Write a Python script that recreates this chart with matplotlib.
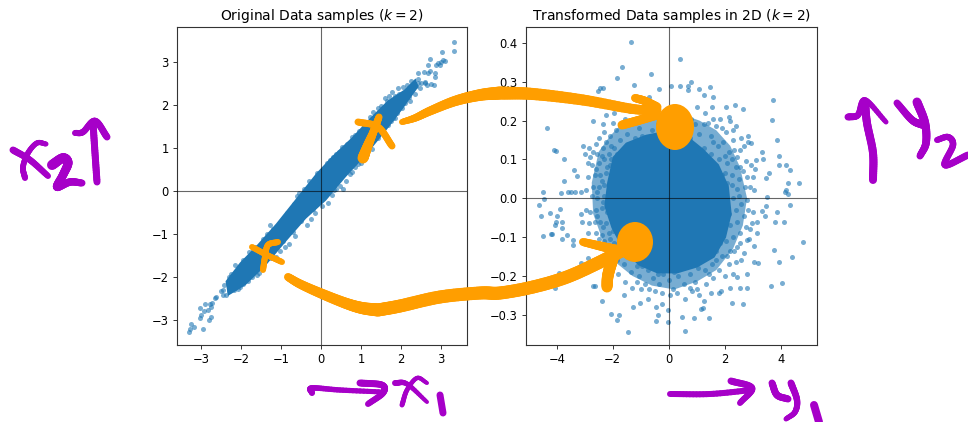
import matplotlib
matplotlib.use('Agg')
import matplotlib.pyplot as plt
import numpy as np
from matplotlib.collections import LineCollection
from matplotlib.patches import Ellipse

#Scatter samples (x, y)
orig_points = [
    (3.32,3.46),(3.32,3.25),(3.03,3.23),(2.72,3.05),(2.68,2.91),(3.05,3.04),(3.01,2.98),(2.93,2.96),(2.88,2.92),
    (2.98,2.93),(3.1,3.02),(2.43,2.73),(2.57,2.75),(2.68,2.73),(2.73,2.77),(2.86,2.73),(2.84,2.65),(2.76,2.48),
    (2.83,2.46),(2.43,2.5),(2.51,2.5),(2.59,2.5),(2.38,2.44),(2.3,2.49),(2.2,2.38),(2.15,2.45),(2.28,2.35),
    (2.12,2.3),(2.05,2.4),(1.95,2.25),(1.85,2.2),(1.7,2.2),(1.65,2.08),(1.5,1.98),(1.42,1.92),(2.2,2.18),
    (2.1,2.03),(2.02,1.93),(1.9,1.8),(1.75,1.62),(1.8,1.7),(0.85,1.3),(0.7,1.12),(0.6,0.98),(0.45,0.9),
    (0.3,0.78),(0.15,0.65),(0.12,0.55),(-0.1,0.42),(-0.3,0.22),(-0.42,0.05),(-0.55,-0.05),(0.55,0.05),(0.38,0.05),
    (0.72,0.4),(0.85,0.55),(1.0,0.65),(1.15,0.85),(0.28,-0.1),(0.02,-0.35),(-0.2,-0.42),(-0.25,-0.65),(-0.5,-0.7),
    (-0.65,-1.05),(-0.7,-0.95),(-0.9,-1.3),(-0.95,-1.15),(-1.25,-1.55),(-1.48,-1.45),(-1.28,-0.8),(-1.0,-0.72),
    (-0.85,-0.5),(-0.68,-0.3),(-1.45,-1.12),(-1.65,-1.3),(-1.8,-1.42),(-1.95,-1.6),(-2.02,-1.75),(-2.15,-1.72),
    (-2.3,-2.06),(-2.2,-2.14),(-2.08,-2.28),(-2.3,-2.0),(-1.6,-1.95),(-1.55,-1.9),(-1.95,-2.15),(-2.25,-1.92),
    (-2.37,-2.41),(-2.3,-2.31),(-2.49,-2.31),(-2.46,-2.29),(-2.62,-2.46),(-2.64,-2.49),(-2.42,-2.18),(-2.45,-2.42),
    (-2.74,-2.68),(-2.77,-2.61),(-2.83,-2.76),(-2.93,-2.78),(-2.74,-2.92),(-2.8,-2.98),(-3.03,-2.95),(-3.01,-2.88),
    (-2.89,-2.63),(-3.03,-2.71),(-2.95,-3.19),(-3.24,-3.09),(-3.18,-3.15),(-3.27,-3.2),(-3.3,-3.26),(-2.72,-2.6),
    (-2.18,-2.3),(-2.12,-2.0),(-2.02,-2.22),(-1.88,-1.72),(-1.78,-1.52),(-1.72,-2.0),(-1.7,-1.38),(-1.82,-2.08),
    (-1.35,-1.0),(-1.2,-.88),(-1.12,-1.52),(-1.02,-1.38),(-.8,-1.22),(-.75,-.45),(-.6,-.12),(-.35,-.78),(-.15,-.5),
    (.18,-.28),(.32,.02),(.48,.12),(.62,.22),(.78,.45),(.92,.62),(.22,.72),(.38,.85),(.52,1.02),(.65,1.08),(.78,1.25),
    (.95,1.38),(1.08,1.52),(1.22,1.72),(1.3,1.82),(1.12,.78),(1.28,.98),(1.42,1.22),(1.58,1.35),(1.68,1.52),(1.85,1.68),
    (1.6,2.15),(1.78,2.3),(1.92,2.38),(2.22,2.08),(2.35,2.25),(2.48,2.38),(2.42,2.6),(2.25,2.55),(2.6,2.52),(2.66,2.46),
]
orig_band_x = [-2.35,-2,-1.6,-1.1,-.6,-.1,.3,.8,1.2,1.7,2.1,2.35,2.4,2.0,1.6,1.1,.6,.1,-.4,-.9,-1.4,-1.9,-2.3]
orig_band_y = [-2.1,-1.68,-1.3,-.78,-.2,.38,.78,1.22,1.62,2.08,2.32,2.55,2.42,1.9,1.42,.85,.35,-.2,-.62,-1.15,-1.7,-2.15,-2.38]

trans_points = [
    (-1.33,.403),(.4,.358),(-1.67,.337),(-.63,.32),(-1.83,.309),(-1.25,.292),(-2.46,.283),(-2.35,.284),(-2.52,.275),
    (-.36,.281),(.07,.289),(.4,.29),(.69,.288),(.79,.299),(.7,.279),(1.08,.281),(1.49,.286),(1.25,.266),(1.58,.262),
    (3.74,.252),(3.7,.201),(3.88,.149),(3.94,.109),(3.94,.085),(4.2,.085),(4.32,.073),(4.26,.039),(4.64,.04),
    (4.14,.015),(4.2,.02),(4.27,.011),(4.32,-.017),(4.8,-.113),(4.42,-.152),(3.76,-.134),(3.94,-.165),(4.06,-.219),
    (3.64,-.226),(4.12,-.06),(3.8,-.062),(3.88,-.036),(3.45,-.047),(3.35,-.034),(3.49,-.021),(3.52,.004),(3.58,.064),
    (3.49,.052),(3.32,.12),(3.37,.1),(3.13,.099),(2.95,.143),(2.83,.161),(2.65,.23),(2.36,.241),(2.06,.236),
    (-4.35,.181),(-4.11,.124),(-4.01,.122),(-3.75,.102),(-3.39,.073),(-3.27,.056),(-3.73,.045),(-4.51,.017),
    (-3.85,.013),(-3.6,.015),(-3.48,.015),(-3.35,.015),(-3.12,.015),(-4.45,-.002),(-4.64,-.017),(-4.57,-.045),
    (-4.25,-.039),(-3.89,-.027),(-3.99,-.047),(-4.04,-.06),(-4.07,-.069),(-3.81,-.06),(-3.81,-.077),(-4.21,-.092),
    (-4.17,-.092),(-4.49,-.096),(-3.81,-.105),(-3.65,-.095),(-3.42,-.107),(-3.42,-.12),(-3.14,-.168),(-2.88,-.155),
    (-3.93,-.193),(-4.07,-.23),(-2.7,-.226),(-2.64,-.226),(-2.37,-.265),(-2.07,-.297),(-1.77,-.301),(-1.83,-.314),
    (-1.45,-.344),(-1.27,-.279),(-1.04,-.269),(-.74,-.26),(-.44,-.281),(-.4,-.301),(-.46,-.315),(-.24,-.273),
    (-.02,-.288),(-.01,-.32),(.46,-.305),(.58,-.341),(.9,-.309),(1.44,-.309),(1.17,-.286),(1.23,-.283),(2.65,-.273),
    (2.26,-.271),(2.56,-.23),(2.8,-.232),(2.18,-.23),(1.8,-.243),(1.88,-.238),(2.8,-.196),(2.3,-.196),(2.44,-.204),
    (3.2,-.168),(3.04,-.163),(3.04,-.123),(2.87,-.105),(2.8,-.107),(3.15,-.09),(2.89,-.079),(2.98,-.064),(3.15,-.062),
    # middle ring, top
    (-2.7,.2),(-2.25,.215),(-1.95,.22),(-1.6,.24),(-1.55,.205),(-1.3,.195),(-1.05,.18),(-.85,.24),(-.7,.26),(-.55,.24),
    (-2.5,.155),(-2.3,.17),(-2.1,.16),(-1.9,.175),(-1.75,.15),(-1.5,.165),(-1.2,.155),(-.95,.16),(-.6,.175),(-.3,.16),
    (1.0,.235),(1.3,.22),(1.55,.235),(1.85,.205),(2.2,.2),(2.4,.185),(2.6,.155),(2.85,.145),(2.05,.17),(1.7,.185),
    (1.25,.19),(1.5,.16),(1.95,.145),(2.3,.15),(2.55,.125),(2.7,.135),(1.1,.165),(1.75,.135),(2.15,.12),(2.45,.105),
    (2.75,.095),(2.95,.085),(3.1,.075),(2.65,.07),(2.4,.08),(2.1,.09),(1.8,.1),(1.5,.115),(1.25,.13),(3.0,.055),
    (2.8,.055),(2.5,.05),(2.25,.06),(2.0,.065),(2.72,.03),(2.45,.025),(2.25,.035),(2.08,.04),(2.9,.03),(3.05,.02),
    (-.2,.21),(-.05,.19),(.1,.175),(-.4,.19),(-.75,.205),(-1.0,.21),(-1.4,.225),(-1.75,.19),(-2.0,.195),(-2.35,.19),
    (.3,.16),(.55,.175),(.75,.155),(.95,.19),(.8,.205),(1.4,.195),(1.6,.205),(1.9,.18),(2.15,.21),(2.3,.175),
    (-1.15,.135),(-.85,.15),(-.5,.15),(-.15,.165),(.2,.155),(.6,.155),(.9,.13),(1.15,.11),(1.4,.09),(1.65,.075),
    (1.9,.06),(2.0,.11),(2.25,.1),(1.6,.145),(2.55,.08),(2.35,.125),(-1.6,.125),(-1.85,.115),(-2.05,.1),(-2.25,.145),
    # middle ring, left
    (-3.05,.135),(-3.0,.115),(-2.85,.13),(-2.7,.12),(-2.55,.115),(-2.35,.13),(-2.15,.115),(-1.95,.13),(-2.9,.09),
    (-2.75,.085),(-2.5,.09),(-2.3,.1),(-2.1,.085),(-2.9,.055),(-2.65,.06),(-2.45,.06),(-2.25,.065),(-2.05,.055),
    (-2.7,.03),(-2.5,.03),(-2.3,.035),(-2.15,.02),(-2.95,.02),(-2.75,.005),(-2.55,.0),(-2.3,.005),(-2.1,-.005),
    (-3.15,-.04),(-2.95,-.03),(-2.8,-.035),(-2.6,-.03),(-2.4,-.025),(-2.2,-.035),(-3.1,-.06),(-2.85,-.065),(-2.65,-.06),
    (-2.45,-.06),(-2.25,-.065),(-2.9,-.09),(-2.6,-.09),(-2.4,-.095),(-2.15,-.09),(-2.0,-.085),(-2.7,-.115),(-2.45,-.12),
    (-1.95,-.115),(-2.2,-.12),(-2.6,.075),(-2.4,.045),(-2.2,.08),(-1.98,.075),(-2.55,.015),(-2.35,-.01),(-2.05,-.05),
    (-2.55,-.045),(-2.35,-.075),(-2.5,-.105),(-2.3,-.11),(-2.1,-.105),(-2.6,.14),(-2.4,.11),(-2.8,.105),(-2.05,.135),
    # middle ring, bottom
    (-2.6,-.17),(-2.35,-.155),(-2.1,-.16),(-1.8,-.195),(-1.6,-.17),(-1.35,-.19),(-1.55,-.215),(-1.6,-.25),(-1.3,-.23),
    (-1.05,-.2),(-.85,-.22),(-.75,-.185),(-.55,-.205),(-.35,-.22),(-.2,-.195),(.0,-.21),(.15,-.235),(.35,-.2),(.55,-.22),
    (.6,-.26),(.75,-.195),(.95,-.215),(1.1,-.25),(1.25,-.265),(1.35,-.22),(1.5,-.245),(1.6,-.205),(1.05,-.18),(.85,-.24),
    (1.3,-.185),(1.55,-.17),(1.8,-.185),(2.0,-.2),(2.15,-.17),(2.4,-.165),(2.6,-.16),(2.7,-.14),(1.9,-.15),(2.2,-.135),
    (2.45,-.125),(1.7,-.135),(2.05,-.11),(2.3,-.1),(2.55,-.09),(2.75,-.075),(1.95,-.09),(2.2,-.07),(2.45,-.06),(2.68,-.045),
    (2.85,-.03),(3.0,-.035),(2.15,-.04),(2.4,-.03),(2.6,-.015),(2.8,-.005),(2.05,-.02),(2.3,.0),(2.5,.005),
    (-1.15,-.175),(-.95,-.175),(-.6,-.18),(-.4,-.195),(-.1,-.185),(.2,-.19),(.45,-.18),(.65,-.175),(.9,-.17),(1.2,-.155),
    (1.45,-.14),(1.6,-.11),(1.85,-.115),(2.1,-.15),(2.35,-.135),(2.55,-.115),(-.7,-.235),(-.5,-.24),(-.25,-.245),(.05,-.25),
    (.3,-.245),(.75,-.23),(1.0,-.235),(1.45,-.195),(1.7,-.16),(-1.0,-.235),(-1.15,-.215),(-1.4,-.155),(-1.7,-.13),(-1.85,-.16),
]
trans_ring_x = [-2.75,-2.5,-2.1,-1.7,-1.2,-.5,.3,1.1,1.7,2.2,2.55,2.8,2.65,2.3,1.7,1.0,.2,-.6,-1.3,-1.9,-2.35,-2.7]
trans_ring_y = [.04,.12,.16,.19,.2,.215,.22,.2,.175,.135,.08,.0,-.07,-.13,-.185,-.215,-.235,-.225,-.2,-.165,-.11,-.04]
trans_core_x = [-2.15,-1.95,-1.5,-.8,-.1,.6,1.2,1.75,2.1,2.2,2.0,1.6,1.0,.3,-.4,-1.05,-1.6,-2.0,-2.25]
trans_core_y = [.04,.105,.14,.16,.17,.16,.125,.085,.03,-.04,-.1,-.15,-.175,-.19,-.19,-.17,-.13,-.075,-.02]

#Pen strokes in picture pixels (start width, end width, points)
orange_strokes = [
    (6,13,[(402,122),(415,118),(430,111),(455,101),(480,95),(500,93)]),
    (13,9,[(500,93),(533,94),(583,100),(633,109),(657,110)]),
    (8,9,[(635,98),(645,101),(657,107)]),
    (9,9,[(622,125),(640,120),(657,115)]),
    (8,13,[(288,277),(300,284),(320,293),(345,303),(362,308),(378,310)]),
    (13,13,[(378,310),(400,306),(440,297),(480,293),(500,293),(533,287),(567,277),(600,262),(623,250)]),
    (8,10,[(583,242),(600,246),(617,250)]),
    (11,12,[(607,287),(608,275),(613,257)]),
    (7,7,[(358,122),(378,127),(392,146)]),
    (7,8,[(379,117),(376,125),(373,133)]),
    (8,11,[(373,133),(368,145),(363,158)]),
    (6,6,[(252,247),(267,255),(282,262)]),
    (6,6,[(278,242),(268,245),(265,257),(263,270)]),
]
orange_blobs = [(675,127,38,46),(635,242,36,40)]
purple_strokes = [
    (7,6,[(13,150),(30,160),(48,176)]),
    (5,6,[(46,144),(37,143),(28,153),(23,167),(25,178)]),
    (10,7,[(52,165),(63,158),(68,163),(63,175),(57,187),(70,182),(82,183)]),
    (7,7,[(97,182),(95,153),(93,123)]),
    (6,7,[(75,133),(83,132),(95,121),(107,137)]),
    (8,8,[(873,180),(873,153),(867,123),(865,102)]),
    (7,5,[(848,117),(858,115),(865,100),(886,122)]),
    (7,8,[(897,103),(912,120),(923,125)]),
    (9,7,[(917,102),(925,123),(926,143),(920,156)]),
    (6,7,[(937,140),(948,137),(953,145),(945,165),(968,155)]),
    (6,5,[(312,393),(312,388),(340,390),(382,392)]),
    (7,6,[(360,383),(382,385),(383,393),(368,404)]),
    (6,4,[(395,383),(407,384),(427,402)]),
    (4,5,[(427,383),(417,378),(407,390),(402,405)]),
    (7,7,[(440,395),(443,413)]),
    (6,6,[(670,394),(710,394),(752,390)]),
    (7,6,[(731,381),(752,388),(740,403)]),
    (7,7,[(772,383),(777,395),(788,399)]),
    (7,5,[(791,383),(797,400),(795,412),(786,419)]),
    (8,9,[(814,405),(819,422)]),
]

W, H = 968, 422
BLUE = '#1f77b4'
ORANGE = '#ff9e00'
PURPLE = '#a600c8'

#Catmull-Rom through the pen points, so the strokes do not look like polygons
def smooth(stroke, n=12):
    pts = np.array(stroke, dtype=float)
    if len(pts) < 3:
        return pts
    pts = np.vstack([2*pts[0]-pts[1], pts, 2*pts[-1]-pts[-2]])
    out = []
    for i in range(1, len(pts)-2):
        p0, p1, p2, p3 = pts[i-1], pts[i], pts[i+1], pts[i+2]
        for t in np.linspace(0, 1, n, endpoint=False):
            out.append(0.5*(2*p1 + (p2-p0)*t + (2*p0-5*p1+4*p2-p3)*t**2 + (3*p1-p0-3*p2+p3)*t**3))
    out.append(pts[-2])
    return np.array(out)

def draw_stroke(ax, w0, w1, stroke, color):
    path = smooth(stroke)
    segs = [path[i:i+2] for i in range(len(path)-1)]
    widths = np.linspace(w0, w1, len(segs))*0.72
    ax.add_collection(LineCollection(segs, linewidths=widths, colors=color, capstyle='round'))

def panel(box, title, points, fx, fy, xlim, ylim, xticks, yticks):
    ax = fig.add_axes([box[0]/W, 1-box[3]/H, (box[2]-box[0])/W, (box[3]-box[1])/H])
    ax.fill(fx, fy, color=BLUE, lw=2, zorder=2)
    ax.scatter([p[0] for p in points], [p[1] for p in points], s=13, alpha=0.6, linewidths=0, color=BLUE, zorder=2)
    ax.axhline(0, color='k', lw=0.8, alpha=0.6, zorder=3)
    ax.axvline(0, color='k', lw=0.8, alpha=0.6, zorder=3)
    ax.set_xlim(xlim)
    ax.set_ylim(ylim)
    ax.set_xticks(xticks)
    ax.set_yticks(yticks)
    ax.tick_params(labelsize=8.3, length=3, width=0.7, color='#333333', pad=3)
    for s in ax.spines.values():
        s.set_linewidth(0.8)
        s.set_color('#333333')
    ax.set_title(title, fontsize=10, pad=5)
    return ax

fig = plt.figure(figsize=(W/100, H/100), dpi=100)
panel((177,27,467,345), 'Original Data samples ($k=2$)', orig_points, orig_band_x, orig_band_y,
      (-3.6,3.65), (-3.57,3.8), [-3,-2,-1,0,1,2,3], [-3,-2,-1,0,1,2,3])
ax2 = panel((526,27,817,345), 'Transformed Data samples in 2D ($k=2$)', trans_points, trans_core_x, trans_core_y,
      (-5.1,5.3), (-.378,.441), [-4,-2,0,2,4], [-.3,-.2,-.1,0,.1,.2,.3,.4])
ax2.fill(trans_ring_x, trans_ring_y, color=BLUE, alpha=0.6, lw=0, zorder=1)

#Overlay in pixels for the hand drawn marks
pen = fig.add_axes([0,0,1,1])
pen.set_xlim(0,W)
pen.set_ylim(H,0)
pen.axis('off')
pen.patch.set_alpha(0)
for w0, w1, stroke in orange_strokes:
    draw_stroke(pen, w0, w1, stroke, ORANGE)
for cx, cy, bw, bh in orange_blobs:
    pen.add_patch(Ellipse((cx,cy), bw, bh, color=ORANGE, lw=0))
for w0, w1, stroke in purple_strokes:
    draw_stroke(pen, w0, w1, stroke, PURPLE)

fig.savefig('out.png', dpi=100)
